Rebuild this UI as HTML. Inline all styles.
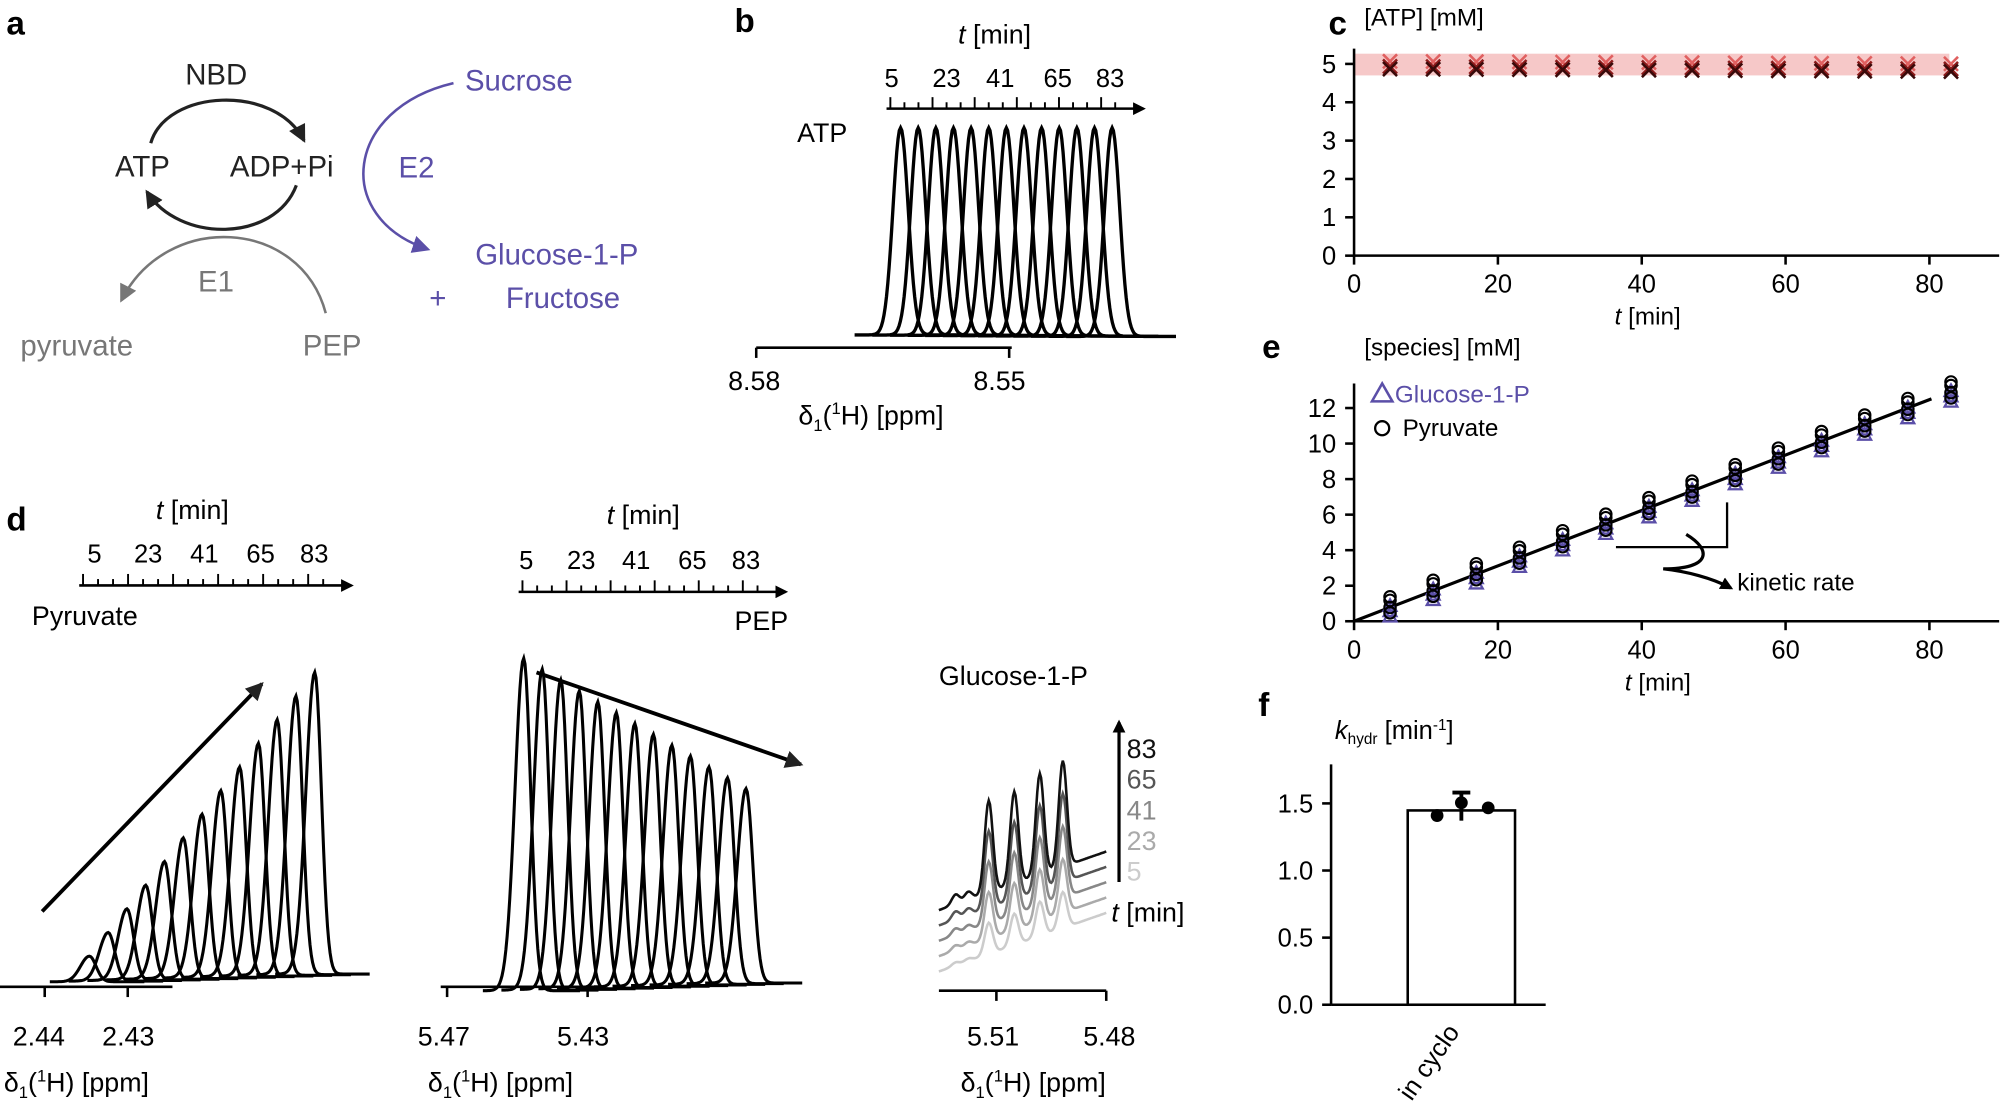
<!DOCTYPE html>
<html><head><meta charset="utf-8">
<style>
html,body{margin:0;padding:0;background:#fff;}
svg{display:block;font-family:"Liberation Sans",Arial,sans-serif;}
</style></head>
<body>
<svg id="s" width="2003" height="1107" viewBox="0 0 1568 866" preserveAspectRatio="none" xmlns="http://www.w3.org/2000/svg">
<defs>
<marker id="ah" markerWidth="10" markerHeight="10" refX="8" refY="5" orient="auto" markerUnits="userSpaceOnUse"><path d="M0,0 L10,5 L0,10 z" fill="#000"/></marker>
<marker id="ahk" markerWidth="14" markerHeight="14" refX="12" refY="7" orient="auto" markerUnits="userSpaceOnUse"><path d="M0,0 L14,7 L0,14 z" fill="#222"/></marker>
<marker id="ahg" markerWidth="14" markerHeight="14" refX="12" refY="7" orient="auto" markerUnits="userSpaceOnUse"><path d="M0,0 L14,7 L0,14 z" fill="#777"/></marker>
<marker id="ahp" markerWidth="14" markerHeight="14" refX="12" refY="7" orient="auto" markerUnits="userSpaceOnUse"><path d="M0,0 L14,7 L0,14 z" fill="#5b4fa8"/></marker>
</defs>
<g font-weight="bold" font-size="26">
<text x="5" y="27">a</text><text x="575" y="25">b</text><text x="1040" y="27">c</text>
<text x="5" y="415">d</text><text x="988" y="280">e</text><text x="985" y="560">f</text>
</g>
<g font-size="23">
<text x="145" y="66" fill="#222">NBD</text>
<text x="90" y="138" fill="#222">ATP</text>
<text x="180" y="138" fill="#222">ADP+Pi</text>
<text x="155" y="228" fill="#777">E1</text>
<text x="16" y="278" fill="#777">pyruvate</text>
<text x="237" y="278" fill="#777">PEP</text>
<text x="364" y="71" fill="#5b4fa8">Sucrose</text>
<text x="312" y="139" fill="#5b4fa8">E2</text>
<text x="372" y="207" fill="#5b4fa8">Glucose-1-P</text>
<text x="336" y="241" fill="#5b4fa8">+</text>
<text x="396" y="241" fill="#5b4fa8">Fructose</text>
</g>
<path d="M118,112 C130,70 215,65 238,110" fill="none" stroke="#222" stroke-width="2.5" marker-end="url(#ahk)"/>
<path d="M232,145 C215,190 140,190 115,150" fill="none" stroke="#222" stroke-width="2.5" marker-end="url(#ahk)"/>
<path d="M255,245 C235,170 130,165 95,235" fill="none" stroke="#777" stroke-width="2" marker-end="url(#ahg)"/>
<path d="M355,65 C270,85 260,170 335,195" fill="none" stroke="#5b4fa8" stroke-width="2" marker-end="url(#ahp)"/>
<g font-size="21">
<text x="750" y="34"><tspan font-style="italic">t</tspan> [min]</text>
<text x="624" y="111">ATP</text>
<text x="570" y="305">8.58</text><text x="762" y="305">8.55</text>
<text x="625" y="332">δ<tspan font-size="13" dy="5">1</tspan><tspan dy="-5">(</tspan><tspan font-size="13" dy="-8">1</tspan><tspan dy="8">H) [ppm]</tspan></text>
</g>
<line x1="592" y1="272" x2="792" y2="272" stroke="#000" stroke-width="2"/>
<line x1="592" y1="272" x2="592" y2="280" stroke="#000" stroke-width="2"/>
<line x1="790" y1="272" x2="790" y2="280" stroke="#000" stroke-width="2"/>
<g font-size="19">
<text x="1068" y="20">[ATP] [mM]</text>
<text x="1264" y="254"><tspan font-style="italic">t</tspan> [min]</text>
</g>
<rect x="1060" y="42" width="466" height="17" fill="#f6c8c8"/>
<g font-size="19">
<text x="1068" y="278">[species] [mM]</text>
<text x="1272" y="540"><tspan font-style="italic">t</tspan> [min]</text>
<text x="1092" y="315" fill="#5b4fa8">Glucose-1-P</text>
<text x="1098" y="341">Pyruvate</text>
<text x="1360" y="462">kinetic rate</text>
</g>
<polygon points="1074,314 1082,300 1090,314" fill="none" stroke="#5b4fa8" stroke-width="2"/>
<circle cx="1082" cy="335" r="5.5" fill="none" stroke="#000" stroke-width="1.8"/>
<path d="M1265,428 L1352,428 L1352,393" fill="none" stroke="#000" stroke-width="1.8"/>
<path d="M1320,418 C1340,430 1340,445 1302,445 C1320,447 1340,452 1355,460" fill="none" stroke="#000" stroke-width="2.5" marker-end="url(#ah)"/>
<text x="1045" y="578" font-size="20"><tspan font-style="italic">k</tspan><tspan font-size="12" dy="4">hydr</tspan><tspan dy="-4"> [min</tspan><tspan font-size="12" dy="-7">-1</tspan><tspan dy="7">]</tspan></text>
<rect x="1102" y="634" width="84" height="152" fill="#fff" stroke="#000" stroke-width="2"/>
<line x1="1144" y1="620" x2="1144" y2="642" stroke="#000" stroke-width="3"/>
<line x1="1137" y1="620" x2="1151" y2="620" stroke="#000" stroke-width="3"/>
<circle cx="1125" cy="638" r="5" fill="#000"/><circle cx="1144" cy="628" r="5" fill="#000"/><circle cx="1165" cy="632" r="5" fill="#000"/>
<text x="0" y="0" font-size="20" transform="translate(1105,862) rotate(-55)">in cyclo</text>
<g font-size="21">
<text x="122" y="406"><tspan font-style="italic">t</tspan> [min]</text>
<text x="25" y="489">Pyruvate</text>
<text x="475" y="410"><tspan font-style="italic">t</tspan> [min]</text>
<text x="575" y="493">PEP</text>
<text x="735" y="536">Glucose-1-P</text>
<text x="10" y="818">2.44</text><text x="80" y="818">2.43</text>
<text x="327" y="818">5.47</text><text x="436" y="818">5.43</text>
<text x="757" y="818">5.51</text><text x="848" y="818">5.48</text>
<text x="3" y="854">δ<tspan font-size="13" dy="5">1</tspan><tspan dy="-5">(</tspan><tspan font-size="13" dy="-8">1</tspan><tspan dy="8">H) [ppm]</tspan></text>
<text x="335" y="854">δ<tspan font-size="13" dy="5">1</tspan><tspan dy="-5">(</tspan><tspan font-size="13" dy="-8">1</tspan><tspan dy="8">H) [ppm]</tspan></text>
<text x="752" y="854">δ<tspan font-size="13" dy="5">1</tspan><tspan dy="-5">(</tspan><tspan font-size="13" dy="-8">1</tspan><tspan dy="8">H) [ppm]</tspan></text>
<text x="882" y="593" fill="#111">83</text><text x="882" y="617" fill="#555">65</text>
<text x="882" y="641" fill="#888">41</text><text x="882" y="665" fill="#aaa">23</text>
<text x="882" y="689" fill="#ccc">5</text>
<text x="870" y="721"><tspan font-style="italic">t</tspan> [min]</text>
</g>
<line x1="876" y1="690" x2="876" y2="565" stroke="#000" stroke-width="2.5" marker-end="url(#ah)"/>
<line x1="33" y1="713" x2="205" y2="535" stroke="#000" stroke-width="3" marker-end="url(#ahk)"/>
<line x1="420" y1="526" x2="627" y2="598" stroke="#000" stroke-width="3" marker-end="url(#ahk)"/>
<line x1="0" y1="772" x2="135" y2="772" stroke="#000" stroke-width="2"/>
<line x1="35" y1="772" x2="35" y2="780" stroke="#000" stroke-width="2"/><line x1="100" y1="772" x2="100" y2="780" stroke="#000" stroke-width="2"/>
<line x1="345" y1="772" x2="470" y2="772" stroke="#000" stroke-width="2"/>
<line x1="350" y1="772" x2="350" y2="780" stroke="#000" stroke-width="2"/><line x1="460" y1="772" x2="460" y2="780" stroke="#000" stroke-width="2"/>
<line x1="735" y1="775" x2="866" y2="775" stroke="#000" stroke-width="2"/>
<line x1="780" y1="775" x2="780" y2="783" stroke="#000" stroke-width="2"/><line x1="866" y1="775" x2="866" y2="783" stroke="#000" stroke-width="2"/>
</svg>
<script>
(function(){
var NS="http://www.w3.org/2000/svg",S=document.getElementById('s');
function el(t,a,p){var e=document.createElementNS(NS,t);for(var k in a)e.setAttribute(k,a[k]);(p||S).appendChild(e);return e;}
function tx(x,y,s,a){var e=el('text',Object.assign({x:x,y:y,'font-size':19},a||{}));e.textContent=s;return e;}
function ln(x1,y1,x2,y2,w,c){return el('line',{x1:x1,y1:y1,x2:x2,y2:y2,stroke:c||'#000','stroke-width':w||2});}
function tl(x0,x1,y,labels,lx,ly){
 el('line',{x1:x0,y1:y,x2:x1,y2:y,stroke:'#000','stroke-width':2,'marker-end':'url(#ah)'});
 var n=16;for(var i=0;i<=n;i++){var x=x0+3+i*(x1-x0-25)/n;ln(x,y,x,y-(i%3==0?9:5),1.5);}
 labels.forEach(function(l,i){tx(lx[i],ly,l,{'font-size':20,'text-anchor':'middle'});});
}
tl(694,895,85,['5','23','41','65','83'],[698,741,783,828,869],68);
tl(62,275,458,['5','23','41','65','83'],[74,116,160,204,246],440);
tl(406,615,463,['5','23','41','65','83'],[412,455,498,542,584],445);
function peak(x,pk,base,w,lw,col,skew){
 var d='',L=Math.round(w*6);
 for(var i=-L;i<=L*1.4;i+=1){var u=i/w;var g=Math.exp(-u*u/2);if(skew&&i<0)g=Math.exp(-u*u/(2*skew));
  var y=base-(base-pk)*g;d+=(d?'L':'M')+(x+i).toFixed(1)+','+y.toFixed(1);}
 el('path',{d:d,fill:'none',stroke:col||'#000','stroke-width':lw||2.5});
}
for(var i=0;i<13;i++){peak(705+i*13.8,100,262+i*0.1,6,2.6);}
for(var i=0;i<13;i++){peak(70+i*14.7,748-i*18.5,768-i*0.5,5.2,2.4,'#000',1.8);}
for(var i=0;i<13;i++){peak(410+i*14.5,515+i*8.5,775-i*0.5,5.4,2.4,'#000',1.6);}
var gc=['#ccc','#aaa','#888','#555','#111'];
for(var k=0;k<5;k++){var d='';var amp=0.35+k*0.17;for(var x=735;x<=866;x++){
 var b=760-k*12-(x-735)*0.35;var y=b;
 [[774,1],[794,1],[814,1.1],[832,1.15]].forEach(function(p){var u=(x-p[0])/3.2;y-=amp*70*p[1]*Math.exp(-u*u/2);});
 [[748,0.3],[758,0.25]].forEach(function(p){var u=(x-p[0])/3;y-=amp*25*p[1]*Math.exp(-u*u/2);});
 d+=(d?'L':'M')+x+','+y.toFixed(1);}
 el('path',{d:d,fill:'none',stroke:gc[k],'stroke-width':2});}
function xax(y0){ln(1060,y0,1565,y0,2);[0,20,40,60,80].forEach(function(v){var x=1060+v*5.63;ln(x,y0,x,y0+7,2);tx(x,y0+29,''+v,{'text-anchor':'middle','font-size':20});});}
ln(1060,38,1060,200,2);xax(200);
for(var v=0;v<=5;v++){var y=200-v*30;ln(1053,y,1060,y,2);tx(1046,y+7,''+v,{'text-anchor':'end','font-size':20});}
var ts=[5,11,17,23,29,35,41,47,53,59,65,71,77,83];
ts.forEach(function(t,i){var x=1060+t*5.63;[[4,'#e06060'],[0,'#8b1a1a'],[-2,'#3a0a0a']].forEach(function(o){var y=52-o[0]+(i*0.15);var s=5.5;
 el('path',{d:'M'+(x-s)+','+(y-s)+'L'+(x+s)+','+(y+s)+'M'+(x-s)+','+(y+s)+'L'+(x+s)+','+(y-s),stroke:o[1],'stroke-width':2});});});
ln(1060,300,1060,486,2);xax(486);
for(var v=0;v<=12;v+=2){var y=486-v*13.9;ln(1053,y,1060,y,2);tx(1046,y+7,''+v,{'text-anchor':'end','font-size':20});}
ln(1060,486,1512,312,2.5);
ts.forEach(function(t){var x=1060+t*5.63;var c=t*0.155;
 [c-0.5,c-0.2,c+0.1].forEach(function(v){var y=486-v*13.9;el('polygon',{points:(x-5)+','+(y+4)+' '+x+','+(y-5)+' '+(x+5)+','+(y+4),fill:'none',stroke:'#5b4fa8','stroke-width':1.8});});
 [c-0.3,c,c+0.4,c+0.6].forEach(function(v){var y=486-v*13.9;el('circle',{cx:x,cy:y,r:4.5,fill:'none',stroke:'#000','stroke-width':1.6});});});
ln(1042,598,1042,786,2);ln(1042,786,1210,786,2);
[0,0.5,1,1.5].forEach(function(v){var y=786-v*105;ln(1035,y,1042,y,2);tx(1028,y+7,v.toFixed(1),{'text-anchor':'end','font-size':20});});
})();
</script>
</body></html>
